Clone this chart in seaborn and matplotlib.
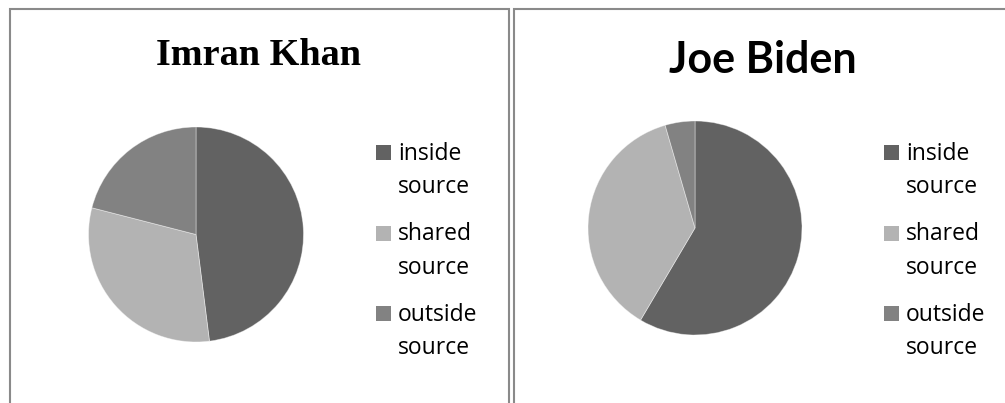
import matplotlib
matplotlib.use("Agg")
import matplotlib.pyplot as plt
from matplotlib.patches import Rectangle
import seaborn as sns

# Share of sources per person
categories = ["inside source", "shared source", "outside source"]
imran_khan = [48, 31, 21]
joe_biden = [58.5, 37, 4.5]
titles = ["Imran Khan", "Joe Biden"]

colors = ["#626262", "#b3b3b3", "#828282"]

sns.set_theme(style="white")
plt.rcParams["font.family"] = ["Open Sans", "DejaVu Sans"]

W, H = 1005, 403
fig = plt.figure(figsize=(W / 100, H / 100), dpi=100)
fig.patch.set_facecolor("white")


def fx(px):
    return px / W


def fy(py):
    return 1 - py / H


# panel frames
frame_kw = dict(fill=False, edgecolor="#8a8a8a", linewidth=1.5,
                transform=fig.transFigure, clip_on=False)
fig.add_artist(Rectangle((fx(10), fy(420)), fx(508.5 - 10), fy(9) - fy(420), **frame_kw))
fig.add_artist(Rectangle((fx(513.5), fy(420)), fx(1030 - 513.5), fy(9) - fy(420), **frame_kw))

panels = [
    dict(values=imran_khan, cx=196, cy=234.5, r=107.5,
         title_x=258.5, title_y=65, title_font=dict(family="Liberation Serif", size=27.5),
         leg_sq=376, leg_tx=398),
    dict(values=joe_biden, cx=695, cy=228, r=107,
         title_x=762.5, title_y=73, title_font=dict(family="Lato", size=31),
         leg_sq=884, leg_tx=906),
]

for title, p in zip(titles, panels):
    ax = fig.add_axes([fx(p["cx"] - p["r"]), fy(p["cy"] + p["r"]),
                       fx(2 * p["r"]), (2 * p["r"]) / H])
    ax.pie(p["values"], colors=colors, startangle=90, counterclock=False,
           radius=1, wedgeprops=dict(linewidth=0.6, edgecolor=(1, 1, 1, 0.45)))
    ax.set_xlim(-1, 1)
    ax.set_ylim(-1, 1)
    ax.set_aspect("equal")
    ax.axis("off")

    fig.text(fx(p["title_x"]), fy(p["title_y"]), title, ha="center", va="baseline",
             fontweight="bold", color="black", **p["title_font"])

    # legend
    base = 160
    for i, (cat, col) in enumerate(zip(categories, colors)):
        y0 = base + i * 80.5
        fig.add_artist(Rectangle((fx(p["leg_sq"]), fy(y0)), fx(15), 15 / H,
                                 facecolor=col, edgecolor="none",
                                 transform=fig.transFigure))
        for j, word in enumerate(cat.split(" ")):
            fig.text(fx(p["leg_tx"]), fy(y0 + j * 33), word, ha="left",
                     va="baseline", fontsize=16.5, color="black")

fig.savefig("out.png", dpi=100, facecolor="white")
